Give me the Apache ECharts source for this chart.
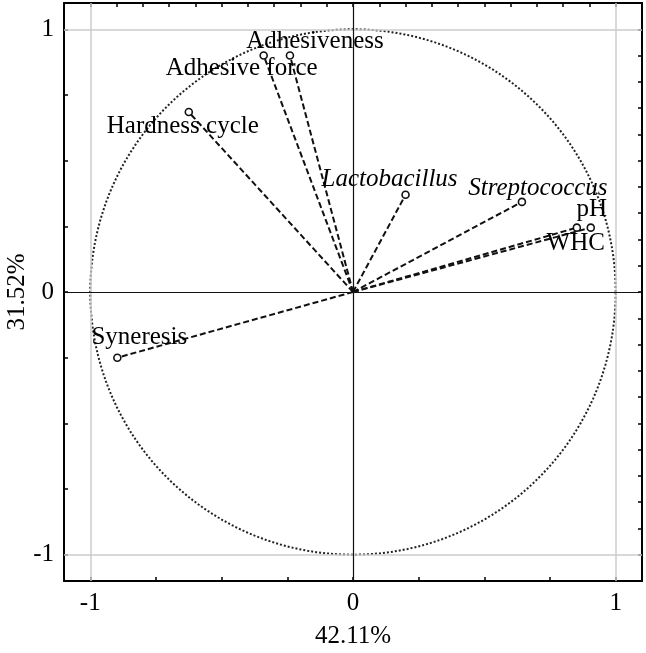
<!DOCTYPE html>
<html>
<head>
<meta charset="utf-8">
<script src="https://cdn.jsdelivr.net/npm/echarts@6/dist/echarts.min.js"></script>
<style>
  html, body { margin: 0; padding: 0; background: #fff; }
  #chart { width: 646px; height: 653px; }
</style>
</head>
<body>
<div id="chart"></div>
<script>
// loadings
const variables = ['Adhesiveness', 'Adhesive force', 'Hardness cycle', 'Lactobacillus', 'Streptococcus', 'pH', 'WHC', 'Syneresis']
const pc1 = [-0.24, -0.34, -0.625, 0.20, 0.643, 0.852, 0.905, -0.897]
const pc2 = [0.90, 0.90, 0.685, 0.37, 0.343, 0.245, 0.245, -0.25]
const tickLabels = [-1, 0, 1]
const xTitle = '42.11%'
const yTitle = '31.52%'

// label placement (px offset from marker)
const labelOffsets = [[25, -14], [-22, 13], [-6, 14], [-16, -15], [16, -13], [15, -18], [-15, 16], [22, -20]]
const italic = ['Lactobacillus', 'Streptococcus']

const serif = 'Liberation Serif'
const fs = 25
const minorTicks = [-1, -0.75, -0.5, -0.25, 0, 0.25, 0.5, 0.75, 1]
const fineTicks = []
for (let i = -10; i <= 10; i++) fineTicks.push(i / 10)

const circle = []
for (let a = 0; a <= 360; a += 2) {
  circle.push([Math.cos(a * Math.PI / 180), Math.sin(a * Math.PI / 180)])
}

const chart = echarts.init(document.getElementById('chart'))

function axis(pos, showLabels, ticks, extra) {
  return Object.assign({
    type: 'value',
    position: pos,
    min: -1.1,
    max: 1.1,
    axisLine: { onZero: false, lineStyle: { color: '#000', width: 2 } },
    axisTick: { show: true, inside: true, length: 4, customValues: ticks, lineStyle: { color: '#000', width: 1.5 } },
    axisLabel: {
      show: showLabels,
      customValues: tickLabels,
      color: '#000',
      fontFamily: serif,
      fontSize: fs,
      margin: 10
    },
    splitLine: { show: false }
  }, extra || {})
}

const vectorSeries = variables.map((name, i) => ({
  type: 'line',
  name: name,
  data: [[0, 0], [pc1[i], pc2[i]]],
  symbol: 'none',
  silent: true,
  lineStyle: { color: '#111', width: 2, type: [6, 3] },
  z: 3
}))

chart.setOption({
  animation: false,
  grid: { left: 64, right: 4, top: 3, bottom: 72, outerBoundsMode: 'none', containLabel: false },
  xAxis: [
    axis('bottom', true, minorTicks, {
      name: xTitle, nameLocation: 'middle', nameGap: 43, nameMoveOverlap: false,
      nameTextStyle: { color: '#000', fontFamily: serif, fontSize: fs }
    }),
    axis('top', false, fineTicks)
  ],
  yAxis: [
    axis('left', true, minorTicks, {
      name: yTitle, nameLocation: 'middle', nameGap: 34, nameMoveOverlap: false,
      nameTextStyle: { color: '#000', fontFamily: serif, fontSize: fs }
    }),
    axis('right', false, fineTicks)
  ],
  series: [
    {
      type: 'line',
      data: circle,
      symbol: 'none',
      silent: true,
      lineStyle: { color: '#222', width: 2, type: [2, 2] },
      z: 2,
      markLine: {
        silent: true,
        symbol: 'none',
        label: { show: false },
        data: [
          { xAxis: -1, lineStyle: { color: '#ccc', width: 1.5, type: 'solid' } },
          { xAxis: 1, lineStyle: { color: '#ccc', width: 1.5, type: 'solid' } },
          { yAxis: -1, lineStyle: { color: '#ccc', width: 1.5, type: 'solid' } },
          { yAxis: 1, lineStyle: { color: '#ccc', width: 1.5, type: 'solid' } },
          { xAxis: 0, lineStyle: { color: '#111', width: 1.2, type: 'solid' } },
          { yAxis: 0, lineStyle: { color: '#111', width: 1.2, type: 'solid' } }
        ]
      }
    },
    ...vectorSeries,
    {
      type: 'scatter',
      symbol: 'circle',
      symbolSize: 7,
      itemStyle: { color: '#fff', borderColor: '#111', borderWidth: 1.6, opacity: 1 },
      z: 5,
      data: variables.map((name, i) => ({
        value: [pc1[i], pc2[i]],
        name: name,
        label: {
          show: true,
          position: 'inside',
          align: 'center',
          verticalAlign: 'middle',
          offset: labelOffsets[i],
          formatter: name,
          color: '#000',
          opacity: 1,
          textBorderWidth: 0,
          textBorderColor: 'transparent',
          fontFamily: serif,
          fontSize: fs,
          fontStyle: italic.includes(name) ? 'italic' : 'normal'
        }
      }))
    }
  ]
})
</script>
</body>
</html>
